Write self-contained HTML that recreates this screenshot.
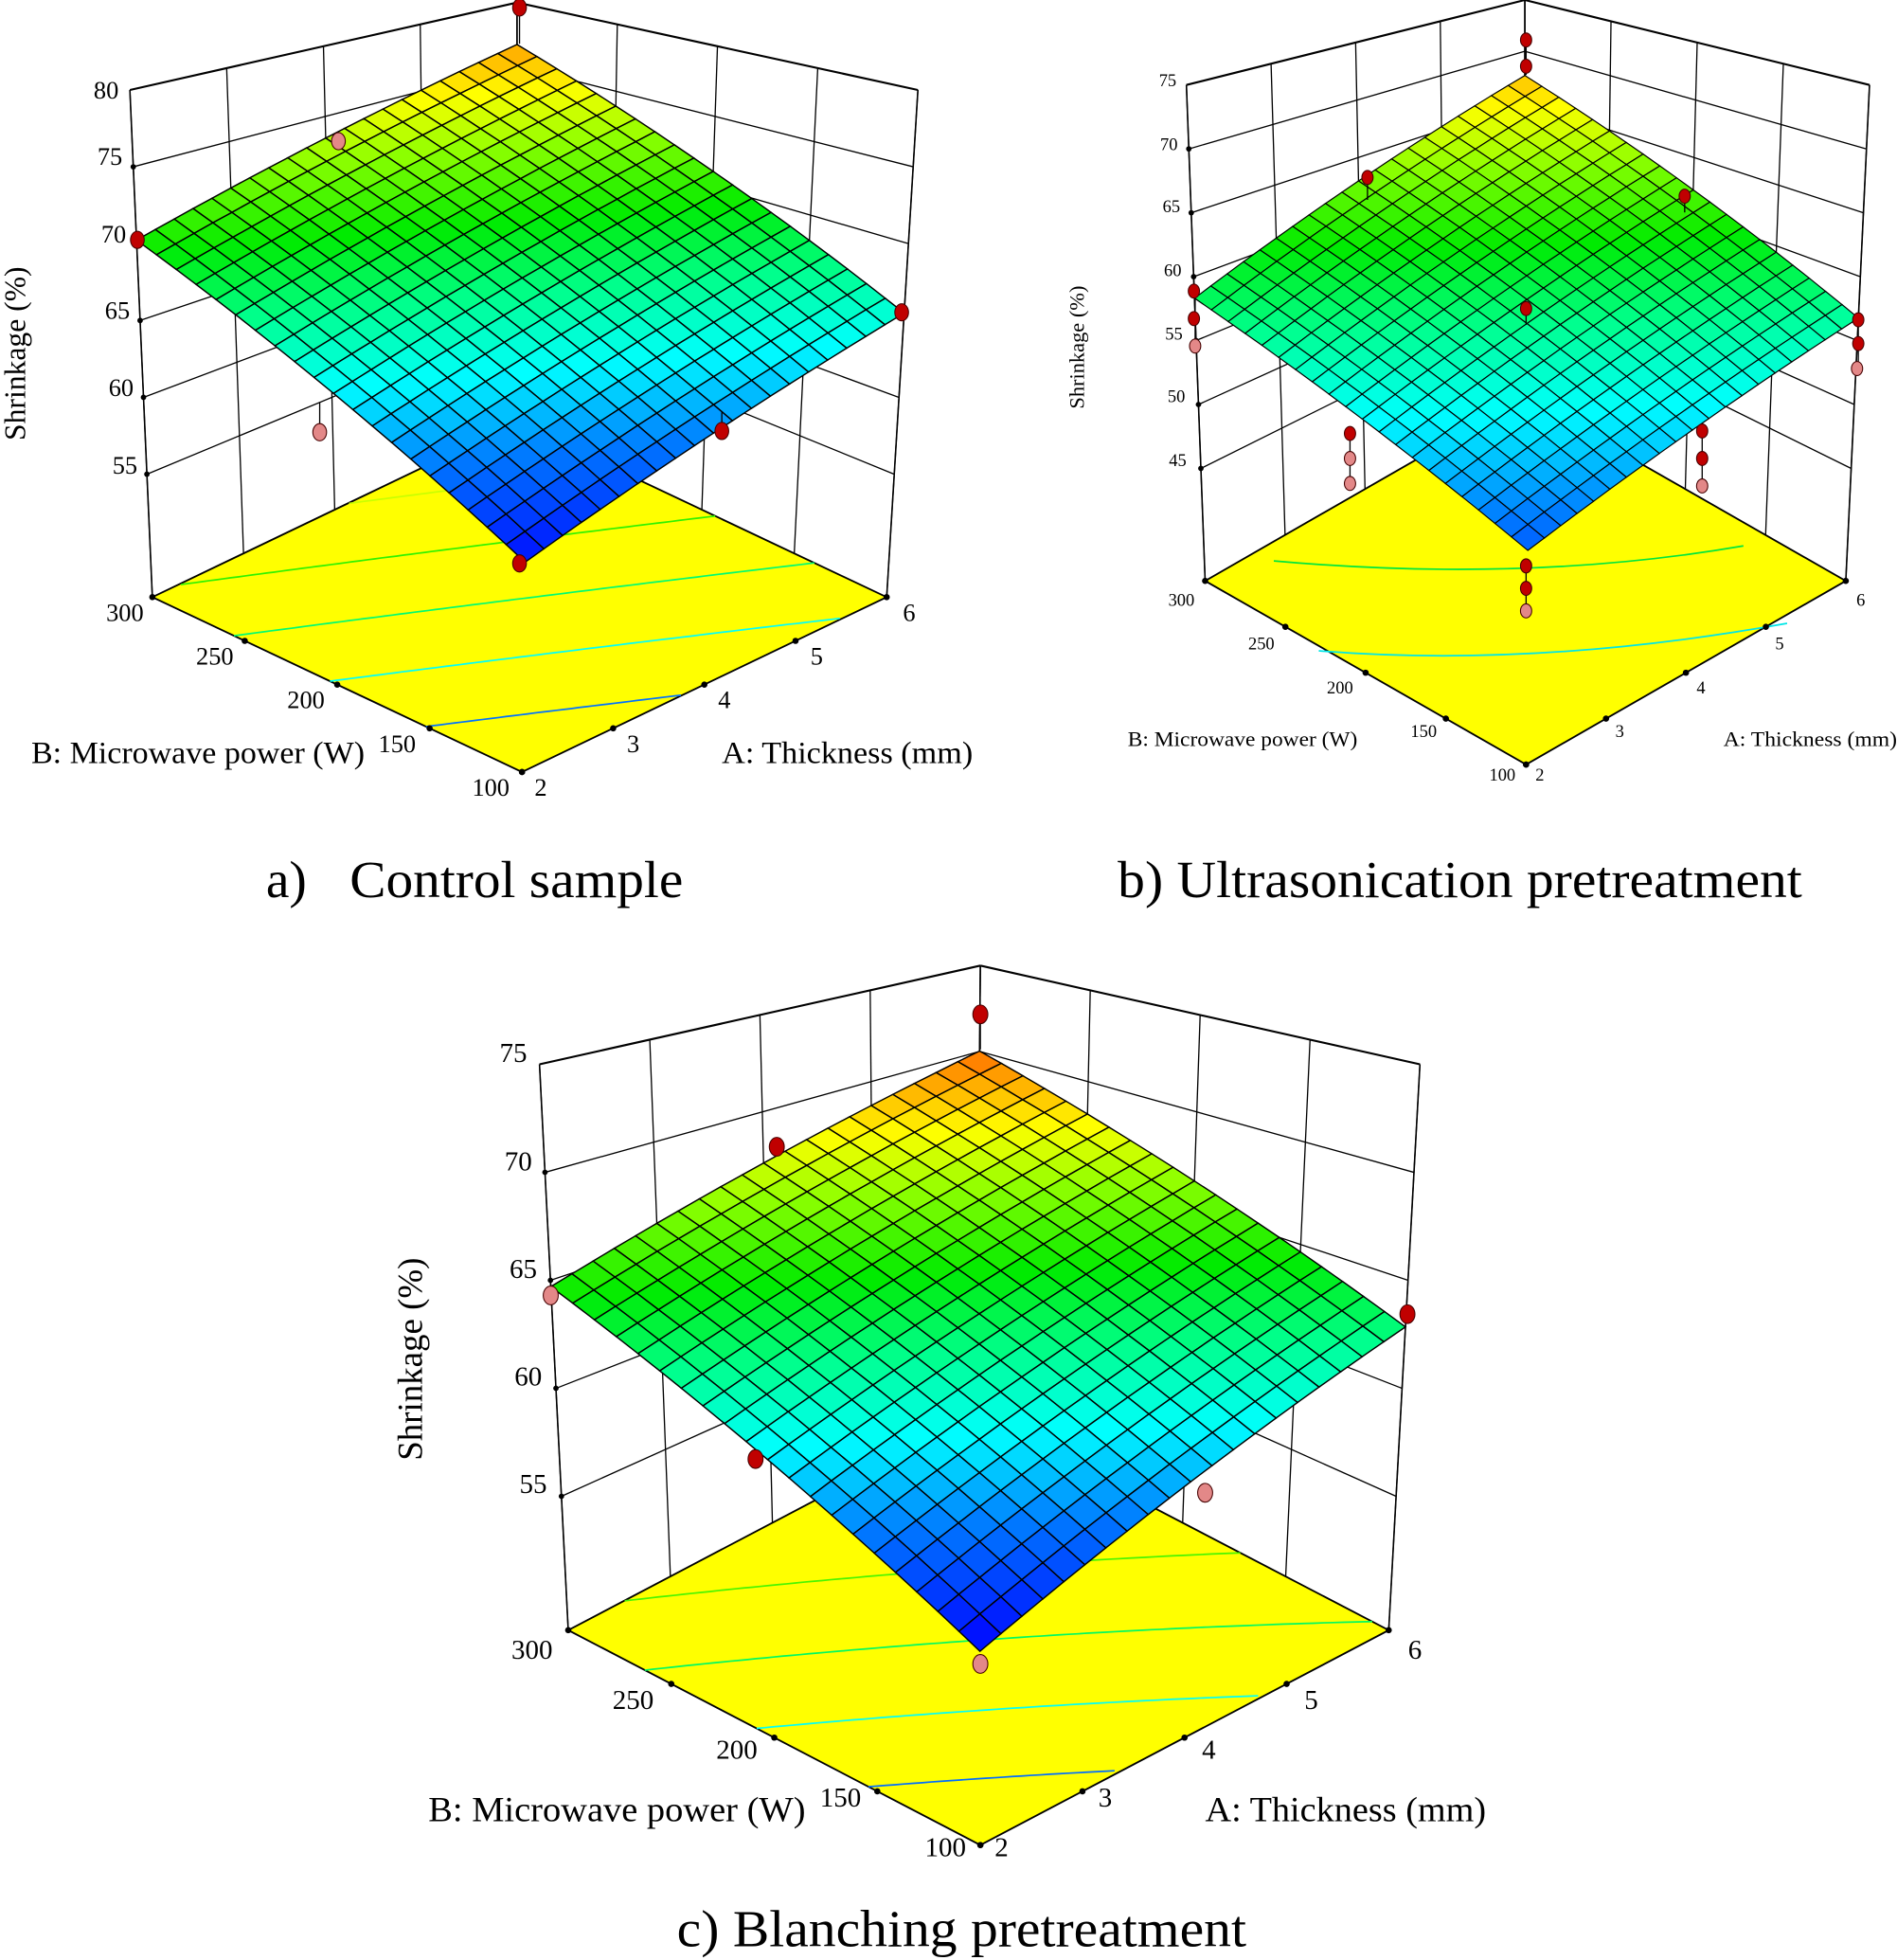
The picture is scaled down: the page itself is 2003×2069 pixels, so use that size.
<!DOCTYPE html>
<html><head><meta charset="utf-8"><style>
html,body{margin:0;padding:0;background:#fff}
svg{display:block}
svg text{font-family:"Liberation Serif","Times New Roman",serif;fill:#000}
</style></head><body>
<svg id="s" xmlns="http://www.w3.org/2000/svg" width="2003" height="2069" viewBox="0 0 1519 1569" font-family="Liberation Serif, serif">
<g id="plots"></g>
<g font-size="20" text-anchor="end">
<text x="95" y="79">80</text><text x="98" y="132">75</text><text x="101" y="194">70</text><text x="104" y="255">65</text><text x="107" y="317">60</text><text x="110" y="379">55</text>
</g>
<g font-size="20" text-anchor="middle">
<text x="100" y="497">300</text><text x="172" y="532">250</text><text x="245" y="567">200</text><text x="318" y="602">150</text><text x="393" y="637">100</text>
<text x="433" y="637">2</text><text x="507" y="602">3</text><text x="580" y="567">4</text><text x="654" y="532">5</text><text x="728" y="497">6</text>
</g>
<text x="25" y="611" font-size="25" textLength="267" lengthAdjust="spacingAndGlyphs">B: Microwave power (W)</text>
<text x="578" y="611" font-size="25" textLength="201" lengthAdjust="spacingAndGlyphs">A: Thickness (mm)</text>
<text transform="translate(20,283) rotate(-90)" font-size="24" text-anchor="middle">Shrinkage (%)</text>
<g font-size="14" text-anchor="end">
<text x="942" y="69">75</text><text x="943" y="120">70</text><text x="945" y="170">65</text><text x="946" y="221">60</text><text x="947" y="272">55</text><text x="949" y="322">50</text><text x="950" y="373">45</text>
</g>
<g font-size="14" text-anchor="middle">
<text x="946" y="485">300</text><text x="1010" y="520">250</text><text x="1073" y="555">200</text><text x="1140" y="590">150</text><text x="1203" y="625">100</text>
<text x="1233" y="625">2</text><text x="1297" y="590">3</text><text x="1362" y="555">4</text><text x="1425" y="520">5</text><text x="1490" y="485">6</text>
</g>
<text x="903" y="597" font-size="17" textLength="184" lengthAdjust="spacingAndGlyphs">B: Microwave power (W)</text>
<text x="1380" y="597" font-size="17" textLength="139" lengthAdjust="spacingAndGlyphs">A: Thickness (mm)</text>
<text transform="translate(868,278) rotate(-90)" font-size="17" text-anchor="middle">Shrinkage (%)</text>
<g font-size="22" text-anchor="end">
<text x="422" y="850">75</text><text x="426" y="937">70</text><text x="430" y="1023">65</text><text x="434" y="1109">60</text><text x="438" y="1195">55</text>
</g>
<g font-size="22" text-anchor="middle">
<text x="426" y="1328">300</text><text x="507" y="1368">250</text><text x="590" y="1408">200</text><text x="673" y="1446">150</text><text x="757" y="1486">100</text>
<text x="802" y="1486">2</text><text x="885" y="1446">3</text><text x="968" y="1408">4</text><text x="1050" y="1368">5</text><text x="1133" y="1328">6</text>
</g>
<text x="343" y="1458" font-size="28" textLength="302" lengthAdjust="spacingAndGlyphs">B: Microwave power (W)</text>
<text x="965" y="1458" font-size="28" textLength="225" lengthAdjust="spacingAndGlyphs">A: Thickness (mm)</text>
<text transform="translate(338,1088) rotate(-90)" font-size="28" text-anchor="middle">Shrinkage (%)</text>
<text x="213" y="718" font-size="42">a)</text>
<text x="280" y="718" font-size="42" textLength="267" lengthAdjust="spacingAndGlyphs">Control sample</text>
<text x="895" y="718" font-size="42" textLength="548" lengthAdjust="spacingAndGlyphs">b) Ultrasonication pretreatment</text>
<text x="542" y="1558" font-size="42" textLength="456" lengthAdjust="spacingAndGlyphs">c) Blanching pretreatment</text>
</svg>
<script>
(function(){
var NS="http://www.w3.org/2000/svg",G=document.getElementById("plots");
function el(t,at){var e=document.createElementNS(NS,t);for(var k in at)e.setAttribute(k,at[k]);G.appendChild(e);return e;}
var stops=[[0,[0,0,255]],[0.18,[0,120,255]],[0.32,[0,255,255]],[0.45,[0,255,140]],[0.58,[0,235,0]],[0.72,[140,255,0]],[0.83,[255,255,0]],[1,[255,90,0]]];
function cmap(t){t=Math.max(0,Math.min(1,t));for(var i=1;i<stops.length;i++){if(t<=stops[i][0]){var a=stops[i-1],b=stops[i],f=(t-a[0])/(b[0]-a[0]);return "rgb("+[0,1,2].map(function(j){return Math.round(a[1][j]+f*(b[1][j]-a[1][j]))}).join(",")+")";}}return "rgb(255,90,0)";}
function panel(p){
 var dF=[p.dL[0]+p.dR[0]-p.dK[0],p.dL[1]+p.dR[1]-p.dK[1]];
 function P(a,b,z){
  var bx=p.F[0]+a*(p.A[0]-p.F[0])+b*(p.B[0]-p.F[0]),by=p.F[1]+a*(p.A[1]-p.F[1])+b*(p.B[1]-p.F[1]);
  var w0=(1-a)*(1-b),w1=a*(1-b),w2=(1-a)*b,w3=a*b;
  var dx=w0*dF[0]+w1*p.dR[0]+w2*p.dL[0]+w3*p.dK[0],dy=w0*dF[1]+w1*p.dR[1]+w2*p.dL[1]+w3*p.dK[1];
  return [bx+z*dx,by+z*dy];}
 function Z(a,b){return (1-a)*(1-b)*p.zF+a*(1-b)*p.zR+(1-a)*b*p.zL+a*b*p.zK;}
 function line(q1,q2,sw,col){el("line",{x1:q1[0].toFixed(1),y1:q1[1].toFixed(1),x2:q2[0].toFixed(1),y2:q2[1].toFixed(1),stroke:col||"#000","stroke-width":sw||1});}
 var zt=p.ticks.map(function(v){return (v-p.zmin)/(p.zmax-p.zmin);});
 for(var i=0;i<=4;i++){var f=i/4;line(P(f,1,0),P(f,1,1),1);line(P(1,f,0),P(1,f,1),1);}
 zt.concat([1]).forEach(function(z){line(P(0,1,z),P(1,1,z),z==1?1.6:1);line(P(1,0,z),P(1,1,z),z==1?1.6:1);});
 zt.forEach(function(z){var q=P(0,1,z);el("circle",{cx:q[0],cy:q[1],r:2.2,fill:"#000"});});
 var c=[P(0,0,0),P(1,0,0),P(1,1,0),P(0,1,0)];
 el("polygon",{points:c.map(function(q){return q[0].toFixed(1)+","+q[1].toFixed(1)}).join(" "),fill:"#ffff00",stroke:"#000","stroke-width":1.4});
 var zs=[p.zF,p.zR,p.zL,p.zK],zmn=Math.min.apply(0,zs),zmx=Math.max.apply(0,zs);
 function col(z){return cmap(p.t0+(z-zmn)/(zmx-zmn)*(p.t1-p.t0));}
 if(p.contours){p.contours.forEach(function(cl){el("path",{d:cl[0],fill:"none",stroke:cl[1],"stroke-width":1.3});});}
 else for(var k=1;k<=5;k++){var lev=zmn+k*(zmx-zmn)/6,pts=[];
  for(var s=0;s<=80;s++){var a=s/80,c0=(1-a)*p.zF+a*p.zR,c1=(1-a)*p.zL+a*p.zK-c0;if(Math.abs(c1)<1e-9)continue;var b=(lev-c0)/c1;if(b>=0&&b<=1){var q=P(a,b,0);pts.push(q[0].toFixed(1)+","+q[1].toFixed(1));}}
  if(pts.length>1)el("polyline",{points:pts.join(" "),fill:"none",stroke:col(lev),"stroke-width":1.3});}
 for(var i=0;i<=4;i++){var f=i/4,q=P(f,0,0),r=P(0,f,0);el("circle",{cx:q[0],cy:q[1],r:2.5,fill:"#000"});el("circle",{cx:r[0],cy:r[1],r:2.5,fill:"#000"});}
 line(P(0,1,0),P(0,1,1),1.2);line(P(1,0,0),P(1,0,1),1.2);line(P(1,1,0),P(1,1,1),1.2);
 var N=20;
 for(var s=N-1;s>=0;s--)for(var t=N-1;t>=0;t--){var a0=s/N,a1=(s+1)/N,b0=t/N,b1=(t+1)/N;
  var q=[P(a0,b0,Z(a0,b0)),P(a1,b0,Z(a1,b0)),P(a1,b1,Z(a1,b1)),P(a0,b1,Z(a0,b1))];
  el("polygon",{points:q.map(function(v){return v[0].toFixed(1)+","+v[1].toFixed(1)}).join(" "),fill:col(Z((a0+a1)/2,(b0+b1)/2)),stroke:"#000","stroke-width":p.sw});}
 (p.stems||[]).forEach(function(st){line(st[0],st[1],1);});
 p.pts.forEach(function(d){el("ellipse",{cx:d[0],cy:d[1],rx:p.r,ry:p.r*1.25,fill:d[2]?"#e38888":"#c00000",stroke:"#400","stroke-width":0.8});});
}
panel({F:[418,618],A:[710,478],B:[122,478],dL:[-18,-406],dR:[25,-406],dK:[0,-336],zmin:47,zmax:80,ticks:[55,60,65,70,75],
 zF:.353,zL:.704,zR:.56,zK:.90,t0:0.02,t1:0.93,sw:1.1,r:5.5,
 stems:[[[416,6],[416,35]],[[256,346],[256,322]],[[578,345],[578,330]]],
 pts:[[416,6,0],[110,192,0],[722,250,0],[578,345,0],[416,451,0],[256,346,1],[271,113,1]]});
panel({F:[1222,612],A:[1478,465],B:[965,465],dL:[-15,-397],dR:[19,-397],dK:[0,-318],zmin:36.2,zmax:75,ticks:[45,50,55,60,65,70],
 zF:.36,zL:.57,zR:.53,zK:.81,t0:0.14,t1:0.9,sw:0.9,r:4.5,
 contours:[["M1020,449 Q1222,467 1396,437","rgb(0,230,60)"],["M1056,521 Q1230,535 1431,499","rgb(0,230,230)"]],
 stems:[[[1222,32],[1222,60]],[[1095,142],[1095,160]],[[1349,157],[1349,170]],[[957,233],[957,277]],[[1222,247],[1222,260]],[[1488,256],[1488,295]],[[1081,347],[1081,387]],[[1363,345],[1363,389]],[[1222,453],[1222,489]]],
 pts:[[1222,32,0],[1222,53,0],[1095,142,0],[1349,157,0],[956,233,0],[956,255,0],[957,277,1],[1222,247,0],[1488,256,0],[1488,275,0],[1487,295,1],[1081,347,0],[1081,367,1],[1081,387,1],[1363,345,0],[1363,367,0],[1363,389,1],[1222,453,0],[1222,471,0],[1222,489,1]]});
panel({F:[785,1477],A:[1112,1305],B:[455,1305],dL:[-23,-453],dR:[25,-453],dK:[3,-360],zmin:48.8,zmax:75,ticks:[55,60,65,70],
 zF:.284,zL:.607,zR:.536,zK:.81,t0:0.0,t1:0.98,sw:1.1,r:6,
 stems:[[[785,812],[785,840]]],
 pts:[[785,812,0],[622,918,0],[1127,1052,0],[605,1168,0],[441,1037,1],[965,1195,1],[785,1332,1]]});
})();
</script>
</body></html>
